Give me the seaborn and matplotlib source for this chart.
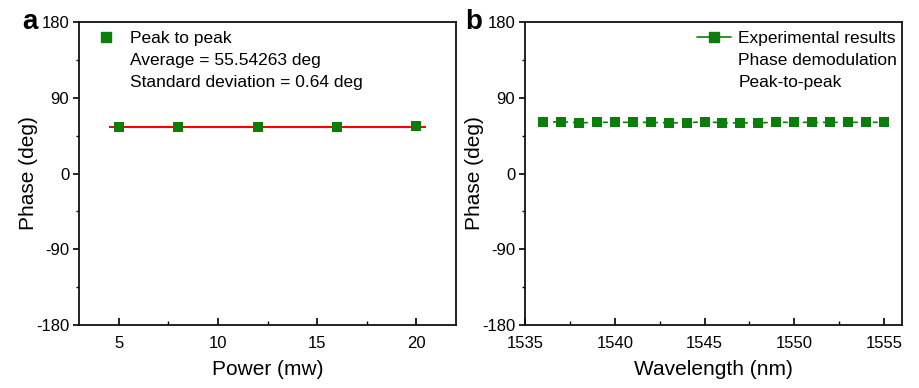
import numpy as np
import pandas as pd
import matplotlib
matplotlib.use("Agg")
import matplotlib.pyplot as plt
import seaborn as sns
from matplotlib.lines import Line2D

# panel a data
power_mw = [5, 8, 12, 16, 20]
phase_a = [54.9, 55.0, 55.6, 55.7, 56.5]
avg_a = 55.54263

# panel b data
wavelength_nm = list(range(1536, 1556))
phase_b = [60.8, 61.6, 60.2, 60.8, 60.8, 60.8, 60.8, 60.2, 60.2, 61.6,
           60.2, 60.2, 60.2, 60.8, 60.8, 60.8, 60.8, 60.8, 60.8, 60.8]

sns.set_style("white")
plt.rcParams['font.family'] = ['Liberation Sans', 'DejaVu Sans']
plt.rcParams['axes.unicode_minus'] = False
for key in ['text.color', 'axes.labelcolor', 'xtick.color', 'ytick.color']:
    plt.rcParams[key] = 'black'

green = '#0a7d0a'
fig = plt.figure(figsize=(9.2, 3.88), dpi=100)
ax1 = fig.add_axes([79/920, 1 - 325/388, 377/920, 303/388])
ax2 = fig.add_axes([525/920, 1 - 325/388, 377/920, 303/388])

df_a = pd.DataFrame({'Power': power_mw, 'Phase': phase_a})
df_b = pd.DataFrame({'Wavelength': wavelength_nm, 'Phase': phase_b})

# (a) phase vs power
ax1.hlines(avg_a, 4.5, 20.5, color='red', lw=1.5, zorder=2)
sns.scatterplot(data=df_a, x='Power', y='Phase', ax=ax1, marker='s', s=55,
                color=green, edgecolor=green, linewidth=0, zorder=3)
ax1.set_xlim(3, 22)
ax1.set_xticks([5, 10, 15, 20])
ax1.set_xticks([7.5, 12.5, 17.5], minor=True)
ax1.set_xlabel('Power (mw)', fontsize=15)

h_a = [Line2D([], [], marker='s', ls='none', color=green, markersize=7),
       Line2D([], [], ls='none'), Line2D([], [], ls='none')]
ax1.legend(h_a, ['Peak to peak', 'Average = 55.54263 deg',
                 'Standard deviation = 0.64 deg'],
           loc='upper left', frameon=False, fontsize=12.5, handlelength=1.2,
           handletextpad=0.8, labelspacing=0.4, borderaxespad=0.1,
           bbox_to_anchor=(0.02, 1.0))

# (b) phase vs wavelength
sns.lineplot(data=df_b, x='Wavelength', y='Phase', ax=ax2, color=green,
             marker='s', markersize=7, markeredgewidth=0, lw=1.2,
             linestyle=(0, (3, 3)))
ax2.set_xlim(1535, 1556)
ax2.set_xticks([1535, 1540, 1545, 1550, 1555])
ax2.set_xticks([1537.5, 1542.5, 1547.5, 1552.5], minor=True)
ax2.set_xlabel('Wavelength (nm)', fontsize=15)

h_b = [Line2D([], [], marker='s', ls='-', color=green, markersize=7, lw=1.2),
       Line2D([], [], ls='none'), Line2D([], [], ls='none')]
ax2.legend(h_b, ['Experimental results', 'Phase demodulation', 'Peak-to-peak'],
           loc='upper right', frameon=False, fontsize=12.5, handlelength=2.0,
           handletextpad=0.4, labelspacing=0.4, borderaxespad=0.1,
           bbox_to_anchor=(1.01, 1.0))

for ax in (ax1, ax2):
    ax.set_ylim(-180, 180)
    ax.set_yticks([-180, -90, 0, 90, 180])
    ax.set_yticks([-135, -45, 45, 135], minor=True)
    ax.set_ylabel('Phase (deg)', fontsize=15)
    for sp in ax.spines.values():
        sp.set_visible(True)
        sp.set_linewidth(1.3)
        sp.set_color('#111111')
    ax.tick_params(axis='x', which='both', direction='in', bottom=True,
                   top=False, labelsize=12, pad=8)
    ax.tick_params(axis='x', which='major', length=5, width=1.2)
    ax.tick_params(axis='x', which='minor', length=3, width=1.0)
    ax.tick_params(axis='y', which='both', direction='out', left=True,
                   right=False, labelsize=12, pad=3)
    ax.tick_params(axis='y', which='major', length=4, width=1.2)
    ax.tick_params(axis='y', which='minor', length=2, width=1.0)
    ax.yaxis.set_label_coords(-0.11, 0.5)
    ax.xaxis.set_label_coords(0.5, -0.115)

fig.text(22/920, 1 - 22/388, 'a', fontsize=20, fontweight='bold', va='center')
fig.text(465/920, 1 - 22/388, 'b', fontsize=20, fontweight='bold', va='center')

fig.savefig('out.png', dpi=100)
